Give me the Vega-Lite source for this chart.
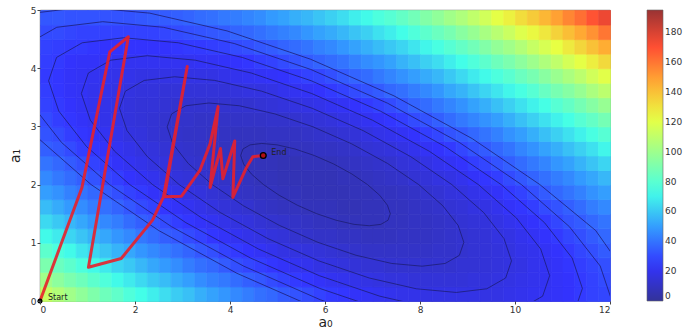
{
"$schema":"https://vega.github.io/schema/vega-lite/v6.json",
"width":570,"height":291,
"autosize":{"type":"none"},
"padding":{"left":40,"top":10,"right":73,"bottom":30},
"config":{"font":"DejaVu Sans","view":{"stroke":"#444","strokeWidth":0.8},
"axis":{"labelFontSize":9,"labelColor":"#333","tickColor":"#444","tickSize":3,"labelPadding":1,"domain":false,"grid":false,"titleColor":"#222","titleFontWeight":"normal","titleFontSize":14}},
"datasets":{
"grid":[
{"a":0,"b":0,"v":112},{"a":0.25,"b":0,"v":106},{"a":0.5,"b":0,"v":101},{"a":0.75,"b":0,"v":96},{"a":1,"b":0,"v":91},{"a":1.25,"b":0,"v":86},{"a":1.5,"b":0,"v":82},{"a":1.75,"b":0,"v":77},{"a":2,"b":0,"v":73},{"a":2.25,"b":0,"v":69},{"a":2.5,"b":0,"v":65},{"a":2.75,"b":0,"v":61},{"a":3,"b":0,"v":58},{"a":3.25,"b":0,"v":54},{"a":3.5,"b":0,"v":51},{"a":3.75,"b":0,"v":48},{"a":4,"b":0,"v":45},{"a":4.25,"b":0,"v":42},{"a":4.5,"b":0,"v":39},{"a":4.75,"b":0,"v":37},{"a":5,"b":0,"v":34},{"a":5.25,"b":0,"v":32},{"a":5.5,"b":0,"v":30},{"a":5.75,"b":0,"v":28},{"a":6,"b":0,"v":26},{"a":6.25,"b":0,"v":25},{"a":6.5,"b":0,"v":23},{"a":6.75,"b":0,"v":22},{"a":7,"b":0,"v":21},{"a":7.25,"b":0,"v":20},{"a":7.5,"b":0,"v":19},{"a":7.75,"b":0,"v":19},{"a":8,"b":0,"v":18},{"a":8.25,"b":0,"v":18},{"a":8.5,"b":0,"v":18},{"a":8.75,"b":0,"v":18},{"a":9,"b":0,"v":18},{"a":9.25,"b":0,"v":18},{"a":9.5,"b":0,"v":18},{"a":9.75,"b":0,"v":19},{"a":10,"b":0,"v":20},{"a":10.25,"b":0,"v":21},{"a":10.5,"b":0,"v":22},{"a":10.75,"b":0,"v":23},{"a":11,"b":0,"v":24},{"a":11.25,"b":0,"v":26},{"a":11.5,"b":0,"v":28},{"a":11.75,"b":0,"v":29},
{"a":0,"b":0.25,"v":101},{"a":0.25,"b":0.25,"v":95},{"a":0.5,"b":0.25,"v":90},{"a":0.75,"b":0.25,"v":86},{"a":1,"b":0.25,"v":81},{"a":1.25,"b":0.25,"v":77},{"a":1.5,"b":0.25,"v":72},{"a":1.75,"b":0.25,"v":68},{"a":2,"b":0.25,"v":64},{"a":2.25,"b":0.25,"v":60},{"a":2.5,"b":0.25,"v":57},{"a":2.75,"b":0.25,"v":53},{"a":3,"b":0.25,"v":50},{"a":3.25,"b":0.25,"v":46},{"a":3.5,"b":0.25,"v":43},{"a":3.75,"b":0.25,"v":41},{"a":4,"b":0.25,"v":38},{"a":4.25,"b":0.25,"v":35},{"a":4.5,"b":0.25,"v":33},{"a":4.75,"b":0.25,"v":30},{"a":5,"b":0.25,"v":28},{"a":5.25,"b":0.25,"v":26},{"a":5.5,"b":0.25,"v":25},{"a":5.75,"b":0.25,"v":23},{"a":6,"b":0.25,"v":21},{"a":6.25,"b":0.25,"v":20},{"a":6.5,"b":0.25,"v":19},{"a":6.75,"b":0.25,"v":18},{"a":7,"b":0.25,"v":17},{"a":7.25,"b":0.25,"v":16},{"a":7.5,"b":0.25,"v":16},{"a":7.75,"b":0.25,"v":15},{"a":8,"b":0.25,"v":15},{"a":8.25,"b":0.25,"v":15},{"a":8.5,"b":0.25,"v":15},{"a":8.75,"b":0.25,"v":15},{"a":9,"b":0.25,"v":16},{"a":9.25,"b":0.25,"v":16},{"a":9.5,"b":0.25,"v":17},{"a":9.75,"b":0.25,"v":18},{"a":10,"b":0.25,"v":19},{"a":10.25,"b":0.25,"v":20},{"a":10.5,"b":0.25,"v":21},{"a":10.75,"b":0.25,"v":23},{"a":11,"b":0.25,"v":24},{"a":11.25,"b":0.25,"v":26},{"a":11.5,"b":0.25,"v":28},{"a":11.75,"b":0.25,"v":30},
{"a":0,"b":0.5,"v":90},{"a":0.25,"b":0.5,"v":85},{"a":0.5,"b":0.5,"v":81},{"a":0.75,"b":0.5,"v":76},{"a":1,"b":0.5,"v":72},{"a":1.25,"b":0.5,"v":68},{"a":1.5,"b":0.5,"v":63},{"a":1.75,"b":0.5,"v":60},{"a":2,"b":0.5,"v":56},{"a":2.25,"b":0.5,"v":52},{"a":2.5,"b":0.5,"v":49},{"a":2.75,"b":0.5,"v":46},{"a":3,"b":0.5,"v":42},{"a":3.25,"b":0.5,"v":39},{"a":3.5,"b":0.5,"v":37},{"a":3.75,"b":0.5,"v":34},{"a":4,"b":0.5,"v":31},{"a":4.25,"b":0.5,"v":29},{"a":4.5,"b":0.5,"v":27},{"a":4.75,"b":0.5,"v":25},{"a":5,"b":0.5,"v":23},{"a":5.25,"b":0.5,"v":21},{"a":5.5,"b":0.5,"v":20},{"a":5.75,"b":0.5,"v":18},{"a":6,"b":0.5,"v":17},{"a":6.25,"b":0.5,"v":16},{"a":6.5,"b":0.5,"v":15},{"a":6.75,"b":0.5,"v":14},{"a":7,"b":0.5,"v":14},{"a":7.25,"b":0.5,"v":13},{"a":7.5,"b":0.5,"v":13},{"a":7.75,"b":0.5,"v":13},{"a":8,"b":0.5,"v":13},{"a":8.25,"b":0.5,"v":13},{"a":8.5,"b":0.5,"v":13},{"a":8.75,"b":0.5,"v":14},{"a":9,"b":0.5,"v":14},{"a":9.25,"b":0.5,"v":15},{"a":9.5,"b":0.5,"v":16},{"a":9.75,"b":0.5,"v":17},{"a":10,"b":0.5,"v":18},{"a":10.25,"b":0.5,"v":20},{"a":10.5,"b":0.5,"v":21},{"a":10.75,"b":0.5,"v":23},{"a":11,"b":0.5,"v":25},{"a":11.25,"b":0.5,"v":27},{"a":11.5,"b":0.5,"v":29},{"a":11.75,"b":0.5,"v":31},
{"a":0,"b":0.75,"v":81},{"a":0.25,"b":0.75,"v":76},{"a":0.5,"b":0.75,"v":72},{"a":0.75,"b":0.75,"v":67},{"a":1,"b":0.75,"v":63},{"a":1.25,"b":0.75,"v":59},{"a":1.5,"b":0.75,"v":55},{"a":1.75,"b":0.75,"v":52},{"a":2,"b":0.75,"v":48},{"a":2.25,"b":0.75,"v":45},{"a":2.5,"b":0.75,"v":42},{"a":2.75,"b":0.75,"v":39},{"a":3,"b":0.75,"v":36},{"a":3.25,"b":0.75,"v":33},{"a":3.5,"b":0.75,"v":31},{"a":3.75,"b":0.75,"v":28},{"a":4,"b":0.75,"v":26},{"a":4.25,"b":0.75,"v":24},{"a":4.5,"b":0.75,"v":22},{"a":4.75,"b":0.75,"v":20},{"a":5,"b":0.75,"v":18},{"a":5.25,"b":0.75,"v":17},{"a":5.5,"b":0.75,"v":16},{"a":5.75,"b":0.75,"v":15},{"a":6,"b":0.75,"v":14},{"a":6.25,"b":0.75,"v":13},{"a":6.5,"b":0.75,"v":12},{"a":6.75,"b":0.75,"v":11},{"a":7,"b":0.75,"v":11},{"a":7.25,"b":0.75,"v":11},{"a":7.5,"b":0.75,"v":11},{"a":7.75,"b":0.75,"v":11},{"a":8,"b":0.75,"v":11},{"a":8.25,"b":0.75,"v":12},{"a":8.5,"b":0.75,"v":12},{"a":8.75,"b":0.75,"v":13},{"a":9,"b":0.75,"v":14},{"a":9.25,"b":0.75,"v":15},{"a":9.5,"b":0.75,"v":16},{"a":9.75,"b":0.75,"v":17},{"a":10,"b":0.75,"v":19},{"a":10.25,"b":0.75,"v":20},{"a":10.5,"b":0.75,"v":22},{"a":10.75,"b":0.75,"v":24},{"a":11,"b":0.75,"v":26},{"a":11.25,"b":0.75,"v":29},{"a":11.5,"b":0.75,"v":31},{"a":11.75,"b":0.75,"v":34},
{"a":0,"b":1,"v":72},{"a":0.25,"b":1,"v":68},{"a":0.5,"b":1,"v":63},{"a":0.75,"b":1,"v":59},{"a":1,"b":1,"v":55},{"a":1.25,"b":1,"v":52},{"a":1.5,"b":1,"v":48},{"a":1.75,"b":1,"v":45},{"a":2,"b":1,"v":41},{"a":2.25,"b":1,"v":38},{"a":2.5,"b":1,"v":35},{"a":2.75,"b":1,"v":33},{"a":3,"b":1,"v":30},{"a":3.25,"b":1,"v":28},{"a":3.5,"b":1,"v":25},{"a":3.75,"b":1,"v":23},{"a":4,"b":1,"v":21},{"a":4.25,"b":1,"v":19},{"a":4.5,"b":1,"v":18},{"a":4.75,"b":1,"v":16},{"a":5,"b":1,"v":15},{"a":5.25,"b":1,"v":13},{"a":5.5,"b":1,"v":12},{"a":5.75,"b":1,"v":11},{"a":6,"b":1,"v":11},{"a":6.25,"b":1,"v":10},{"a":6.5,"b":1,"v":10},{"a":6.75,"b":1,"v":9},{"a":7,"b":1,"v":9},{"a":7.25,"b":1,"v":9},{"a":7.5,"b":1,"v":10},{"a":7.75,"b":1,"v":10},{"a":8,"b":1,"v":10},{"a":8.25,"b":1,"v":11},{"a":8.5,"b":1,"v":12},{"a":8.75,"b":1,"v":13},{"a":9,"b":1,"v":14},{"a":9.25,"b":1,"v":15},{"a":9.5,"b":1,"v":17},{"a":9.75,"b":1,"v":18},{"a":10,"b":1,"v":20},{"a":10.25,"b":1,"v":22},{"a":10.5,"b":1,"v":24},{"a":10.75,"b":1,"v":26},{"a":11,"b":1,"v":29},{"a":11.25,"b":1,"v":31},{"a":11.5,"b":1,"v":34},{"a":11.75,"b":1,"v":37},
{"a":0,"b":1.25,"v":64},{"a":0.25,"b":1.25,"v":60},{"a":0.5,"b":1.25,"v":56},{"a":0.75,"b":1.25,"v":52},{"a":1,"b":1.25,"v":48},{"a":1.25,"b":1.25,"v":45},{"a":1.5,"b":1.25,"v":42},{"a":1.75,"b":1.25,"v":38},{"a":2,"b":1.25,"v":35},{"a":2.25,"b":1.25,"v":33},{"a":2.5,"b":1.25,"v":30},{"a":2.75,"b":1.25,"v":27},{"a":3,"b":1.25,"v":25},{"a":3.25,"b":1.25,"v":23},{"a":3.5,"b":1.25,"v":21},{"a":3.75,"b":1.25,"v":19},{"a":4,"b":1.25,"v":17},{"a":4.25,"b":1.25,"v":16},{"a":4.5,"b":1.25,"v":14},{"a":4.75,"b":1.25,"v":13},{"a":5,"b":1.25,"v":12},{"a":5.25,"b":1.25,"v":11},{"a":5.5,"b":1.25,"v":10},{"a":5.75,"b":1.25,"v":9},{"a":6,"b":1.25,"v":9},{"a":6.25,"b":1.25,"v":8},{"a":6.5,"b":1.25,"v":8},{"a":6.75,"b":1.25,"v":8},{"a":7,"b":1.25,"v":8},{"a":7.25,"b":1.25,"v":9},{"a":7.5,"b":1.25,"v":9},{"a":7.75,"b":1.25,"v":10},{"a":8,"b":1.25,"v":10},{"a":8.25,"b":1.25,"v":11},{"a":8.5,"b":1.25,"v":12},{"a":8.75,"b":1.25,"v":14},{"a":9,"b":1.25,"v":15},{"a":9.25,"b":1.25,"v":16},{"a":9.5,"b":1.25,"v":18},{"a":9.75,"b":1.25,"v":20},{"a":10,"b":1.25,"v":22},{"a":10.25,"b":1.25,"v":24},{"a":10.5,"b":1.25,"v":26},{"a":10.75,"b":1.25,"v":29},{"a":11,"b":1.25,"v":32},{"a":11.25,"b":1.25,"v":34},{"a":11.5,"b":1.25,"v":37},{"a":11.75,"b":1.25,"v":40},
{"a":0,"b":1.5,"v":57},{"a":0.25,"b":1.5,"v":53},{"a":0.5,"b":1.5,"v":49},{"a":0.75,"b":1.5,"v":46},{"a":1,"b":1.5,"v":42},{"a":1.25,"b":1.5,"v":39},{"a":1.5,"b":1.5,"v":36},{"a":1.75,"b":1.5,"v":33},{"a":2,"b":1.5,"v":30},{"a":2.25,"b":1.5,"v":28},{"a":2.5,"b":1.5,"v":25},{"a":2.75,"b":1.5,"v":23},{"a":3,"b":1.5,"v":21},{"a":3.25,"b":1.5,"v":19},{"a":3.5,"b":1.5,"v":17},{"a":3.75,"b":1.5,"v":15},{"a":4,"b":1.5,"v":14},{"a":4.25,"b":1.5,"v":13},{"a":4.5,"b":1.5,"v":11},{"a":4.75,"b":1.5,"v":10},{"a":5,"b":1.5,"v":9},{"a":5.25,"b":1.5,"v":9},{"a":5.5,"b":1.5,"v":8},{"a":5.75,"b":1.5,"v":8},{"a":6,"b":1.5,"v":8},{"a":6.25,"b":1.5,"v":7},{"a":6.5,"b":1.5,"v":7},{"a":6.75,"b":1.5,"v":8},{"a":7,"b":1.5,"v":8},{"a":7.25,"b":1.5,"v":9},{"a":7.5,"b":1.5,"v":9},{"a":7.75,"b":1.5,"v":10},{"a":8,"b":1.5,"v":11},{"a":8.25,"b":1.5,"v":12},{"a":8.5,"b":1.5,"v":14},{"a":8.75,"b":1.5,"v":15},{"a":9,"b":1.5,"v":17},{"a":9.25,"b":1.5,"v":18},{"a":9.5,"b":1.5,"v":20},{"a":9.75,"b":1.5,"v":23},{"a":10,"b":1.5,"v":25},{"a":10.25,"b":1.5,"v":27},{"a":10.5,"b":1.5,"v":30},{"a":10.75,"b":1.5,"v":32},{"a":11,"b":1.5,"v":35},{"a":11.25,"b":1.5,"v":38},{"a":11.5,"b":1.5,"v":42},{"a":11.75,"b":1.5,"v":45},
{"a":0,"b":1.75,"v":50},{"a":0.25,"b":1.75,"v":47},{"a":0.5,"b":1.75,"v":43},{"a":0.75,"b":1.75,"v":40},{"a":1,"b":1.75,"v":37},{"a":1.25,"b":1.75,"v":34},{"a":1.5,"b":1.75,"v":31},{"a":1.75,"b":1.75,"v":28},{"a":2,"b":1.75,"v":26},{"a":2.25,"b":1.75,"v":23},{"a":2.5,"b":1.75,"v":21},{"a":2.75,"b":1.75,"v":19},{"a":3,"b":1.75,"v":17},{"a":3.25,"b":1.75,"v":16},{"a":3.5,"b":1.75,"v":14},{"a":3.75,"b":1.75,"v":13},{"a":4,"b":1.75,"v":11},{"a":4.25,"b":1.75,"v":10},{"a":4.5,"b":1.75,"v":9},{"a":4.75,"b":1.75,"v":9},{"a":5,"b":1.75,"v":8},{"a":5.25,"b":1.75,"v":8},{"a":5.5,"b":1.75,"v":7},{"a":5.75,"b":1.75,"v":7},{"a":6,"b":1.75,"v":7},{"a":6.25,"b":1.75,"v":7},{"a":6.5,"b":1.75,"v":8},{"a":6.75,"b":1.75,"v":8},{"a":7,"b":1.75,"v":9},{"a":7.25,"b":1.75,"v":9},{"a":7.5,"b":1.75,"v":10},{"a":7.75,"b":1.75,"v":11},{"a":8,"b":1.75,"v":13},{"a":8.25,"b":1.75,"v":14},{"a":8.5,"b":1.75,"v":16},{"a":8.75,"b":1.75,"v":17},{"a":9,"b":1.75,"v":19},{"a":9.25,"b":1.75,"v":21},{"a":9.5,"b":1.75,"v":23},{"a":9.75,"b":1.75,"v":26},{"a":10,"b":1.75,"v":28},{"a":10.25,"b":1.75,"v":31},{"a":10.5,"b":1.75,"v":34},{"a":10.75,"b":1.75,"v":37},{"a":11,"b":1.75,"v":40},{"a":11.25,"b":1.75,"v":43},{"a":11.5,"b":1.75,"v":47},{"a":11.75,"b":1.75,"v":50},
{"a":0,"b":2,"v":45},{"a":0.25,"b":2,"v":41},{"a":0.5,"b":2,"v":38},{"a":0.75,"b":2,"v":35},{"a":1,"b":2,"v":32},{"a":1.25,"b":2,"v":29},{"a":1.5,"b":2,"v":27},{"a":1.75,"b":2,"v":24},{"a":2,"b":2,"v":22},{"a":2.25,"b":2,"v":20},{"a":2.5,"b":2,"v":18},{"a":2.75,"b":2,"v":16},{"a":3,"b":2,"v":15},{"a":3.25,"b":2,"v":13},{"a":3.5,"b":2,"v":12},{"a":3.75,"b":2,"v":11},{"a":4,"b":2,"v":10},{"a":4.25,"b":2,"v":9},{"a":4.5,"b":2,"v":8},{"a":4.75,"b":2,"v":8},{"a":5,"b":2,"v":7},{"a":5.25,"b":2,"v":7},{"a":5.5,"b":2,"v":7},{"a":5.75,"b":2,"v":7},{"a":6,"b":2,"v":7},{"a":6.25,"b":2,"v":8},{"a":6.5,"b":2,"v":8},{"a":6.75,"b":2,"v":9},{"a":7,"b":2,"v":10},{"a":7.25,"b":2,"v":11},{"a":7.5,"b":2,"v":12},{"a":7.75,"b":2,"v":14},{"a":8,"b":2,"v":15},{"a":8.25,"b":2,"v":17},{"a":8.5,"b":2,"v":18},{"a":8.75,"b":2,"v":20},{"a":9,"b":2,"v":23},{"a":9.25,"b":2,"v":25},{"a":9.5,"b":2,"v":27},{"a":9.75,"b":2,"v":30},{"a":10,"b":2,"v":33},{"a":10.25,"b":2,"v":36},{"a":10.5,"b":2,"v":39},{"a":10.75,"b":2,"v":42},{"a":11,"b":2,"v":45},{"a":11.25,"b":2,"v":49},{"a":11.5,"b":2,"v":52},{"a":11.75,"b":2,"v":56},
{"a":0,"b":2.25,"v":40},{"a":0.25,"b":2.25,"v":37},{"a":0.5,"b":2.25,"v":34},{"a":0.75,"b":2.25,"v":31},{"a":1,"b":2.25,"v":28},{"a":1.25,"b":2.25,"v":26},{"a":1.5,"b":2.25,"v":23},{"a":1.75,"b":2.25,"v":21},{"a":2,"b":2.25,"v":19},{"a":2.25,"b":2.25,"v":17},{"a":2.5,"b":2.25,"v":16},{"a":2.75,"b":2.25,"v":14},{"a":3,"b":2.25,"v":13},{"a":3.25,"b":2.25,"v":12},{"a":3.5,"b":2.25,"v":11},{"a":3.75,"b":2.25,"v":10},{"a":4,"b":2.25,"v":9},{"a":4.25,"b":2.25,"v":8},{"a":4.5,"b":2.25,"v":8},{"a":4.75,"b":2.25,"v":8},{"a":5,"b":2.25,"v":7},{"a":5.25,"b":2.25,"v":7},{"a":5.5,"b":2.25,"v":8},{"a":5.75,"b":2.25,"v":8},{"a":6,"b":2.25,"v":8},{"a":6.25,"b":2.25,"v":9},{"a":6.5,"b":2.25,"v":10},{"a":6.75,"b":2.25,"v":11},{"a":7,"b":2.25,"v":12},{"a":7.25,"b":2.25,"v":13},{"a":7.5,"b":2.25,"v":15},{"a":7.75,"b":2.25,"v":16},{"a":8,"b":2.25,"v":18},{"a":8.25,"b":2.25,"v":20},{"a":8.5,"b":2.25,"v":22},{"a":8.75,"b":2.25,"v":24},{"a":9,"b":2.25,"v":27},{"a":9.25,"b":2.25,"v":29},{"a":9.5,"b":2.25,"v":32},{"a":9.75,"b":2.25,"v":35},{"a":10,"b":2.25,"v":38},{"a":10.25,"b":2.25,"v":41},{"a":10.5,"b":2.25,"v":44},{"a":10.75,"b":2.25,"v":48},{"a":11,"b":2.25,"v":51},{"a":11.25,"b":2.25,"v":55},{"a":11.5,"b":2.25,"v":59},{"a":11.75,"b":2.25,"v":63},
{"a":0,"b":2.5,"v":35},{"a":0.25,"b":2.5,"v":33},{"a":0.5,"b":2.5,"v":30},{"a":0.75,"b":2.5,"v":27},{"a":1,"b":2.5,"v":25},{"a":1.25,"b":2.5,"v":23},{"a":1.5,"b":2.5,"v":21},{"a":1.75,"b":2.5,"v":19},{"a":2,"b":2.5,"v":17},{"a":2.25,"b":2.5,"v":16},{"a":2.5,"b":2.5,"v":14},{"a":2.75,"b":2.5,"v":13},{"a":3,"b":2.5,"v":12},{"a":3.25,"b":2.5,"v":11},{"a":3.5,"b":2.5,"v":10},{"a":3.75,"b":2.5,"v":9},{"a":4,"b":2.5,"v":9},{"a":4.25,"b":2.5,"v":8},{"a":4.5,"b":2.5,"v":8},{"a":4.75,"b":2.5,"v":8},{"a":5,"b":2.5,"v":8},{"a":5.25,"b":2.5,"v":9},{"a":5.5,"b":2.5,"v":9},{"a":5.75,"b":2.5,"v":10},{"a":6,"b":2.5,"v":10},{"a":6.25,"b":2.5,"v":11},{"a":6.5,"b":2.5,"v":12},{"a":6.75,"b":2.5,"v":14},{"a":7,"b":2.5,"v":15},{"a":7.25,"b":2.5,"v":16},{"a":7.5,"b":2.5,"v":18},{"a":7.75,"b":2.5,"v":20},{"a":8,"b":2.5,"v":22},{"a":8.25,"b":2.5,"v":24},{"a":8.5,"b":2.5,"v":26},{"a":8.75,"b":2.5,"v":29},{"a":9,"b":2.5,"v":32},{"a":9.25,"b":2.5,"v":34},{"a":9.5,"b":2.5,"v":37},{"a":9.75,"b":2.5,"v":40},{"a":10,"b":2.5,"v":44},{"a":10.25,"b":2.5,"v":47},{"a":10.5,"b":2.5,"v":51},{"a":10.75,"b":2.5,"v":54},{"a":11,"b":2.5,"v":58},{"a":11.25,"b":2.5,"v":62},{"a":11.5,"b":2.5,"v":66},{"a":11.75,"b":2.5,"v":71},
{"a":0,"b":2.75,"v":32},{"a":0.25,"b":2.75,"v":30},{"a":0.5,"b":2.75,"v":27},{"a":0.75,"b":2.75,"v":25},{"a":1,"b":2.75,"v":23},{"a":1.25,"b":2.75,"v":21},{"a":1.5,"b":2.75,"v":19},{"a":1.75,"b":2.75,"v":17},{"a":2,"b":2.75,"v":16},{"a":2.25,"b":2.75,"v":14},{"a":2.5,"b":2.75,"v":13},{"a":2.75,"b":2.75,"v":12},{"a":3,"b":2.75,"v":11},{"a":3.25,"b":2.75,"v":11},{"a":3.5,"b":2.75,"v":10},{"a":3.75,"b":2.75,"v":10},{"a":4,"b":2.75,"v":9},{"a":4.25,"b":2.75,"v":9},{"a":4.5,"b":2.75,"v":9},{"a":4.75,"b":2.75,"v":10},{"a":5,"b":2.75,"v":10},{"a":5.25,"b":2.75,"v":10},{"a":5.5,"b":2.75,"v":11},{"a":5.75,"b":2.75,"v":12},{"a":6,"b":2.75,"v":13},{"a":6.25,"b":2.75,"v":14},{"a":6.5,"b":2.75,"v":15},{"a":6.75,"b":2.75,"v":17},{"a":7,"b":2.75,"v":19},{"a":7.25,"b":2.75,"v":20},{"a":7.5,"b":2.75,"v":22},{"a":7.75,"b":2.75,"v":24},{"a":8,"b":2.75,"v":27},{"a":8.25,"b":2.75,"v":29},{"a":8.5,"b":2.75,"v":32},{"a":8.75,"b":2.75,"v":34},{"a":9,"b":2.75,"v":37},{"a":9.25,"b":2.75,"v":40},{"a":9.5,"b":2.75,"v":43},{"a":9.75,"b":2.75,"v":47},{"a":10,"b":2.75,"v":50},{"a":10.25,"b":2.75,"v":54},{"a":10.5,"b":2.75,"v":58},{"a":10.75,"b":2.75,"v":62},{"a":11,"b":2.75,"v":66},{"a":11.25,"b":2.75,"v":70},{"a":11.5,"b":2.75,"v":75},{"a":11.75,"b":2.75,"v":79},
{"a":0,"b":3,"v":30},{"a":0.25,"b":3,"v":27},{"a":0.5,"b":3,"v":25},{"a":0.75,"b":3,"v":23},{"a":1,"b":3,"v":21},{"a":1.25,"b":3,"v":19},{"a":1.5,"b":3,"v":18},{"a":1.75,"b":3,"v":16},{"a":2,"b":3,"v":15},{"a":2.25,"b":3,"v":14},{"a":2.5,"b":3,"v":13},{"a":2.75,"b":3,"v":12},{"a":3,"b":3,"v":12},{"a":3.25,"b":3,"v":11},{"a":3.5,"b":3,"v":11},{"a":3.75,"b":3,"v":11},{"a":4,"b":3,"v":11},{"a":4.25,"b":3,"v":11},{"a":4.5,"b":3,"v":11},{"a":4.75,"b":3,"v":12},{"a":5,"b":3,"v":12},{"a":5.25,"b":3,"v":13},{"a":5.5,"b":3,"v":14},{"a":5.75,"b":3,"v":15},{"a":6,"b":3,"v":16},{"a":6.25,"b":3,"v":18},{"a":6.5,"b":3,"v":19},{"a":6.75,"b":3,"v":21},{"a":7,"b":3,"v":23},{"a":7.25,"b":3,"v":25},{"a":7.5,"b":3,"v":27},{"a":7.75,"b":3,"v":30},{"a":8,"b":3,"v":32},{"a":8.25,"b":3,"v":35},{"a":8.5,"b":3,"v":38},{"a":8.75,"b":3,"v":41},{"a":9,"b":3,"v":44},{"a":9.25,"b":3,"v":47},{"a":9.5,"b":3,"v":50},{"a":9.75,"b":3,"v":54},{"a":10,"b":3,"v":58},{"a":10.25,"b":3,"v":62},{"a":10.5,"b":3,"v":66},{"a":10.75,"b":3,"v":70},{"a":11,"b":3,"v":74},{"a":11.25,"b":3,"v":79},{"a":11.5,"b":3,"v":83},{"a":11.75,"b":3,"v":88},
{"a":0,"b":3.25,"v":28},{"a":0.25,"b":3.25,"v":26},{"a":0.5,"b":3.25,"v":24},{"a":0.75,"b":3.25,"v":22},{"a":1,"b":3.25,"v":20},{"a":1.25,"b":3.25,"v":19},{"a":1.5,"b":3.25,"v":18},{"a":1.75,"b":3.25,"v":16},{"a":2,"b":3.25,"v":15},{"a":2.25,"b":3.25,"v":15},{"a":2.5,"b":3.25,"v":14},{"a":2.75,"b":3.25,"v":13},{"a":3,"b":3.25,"v":13},{"a":3.25,"b":3.25,"v":13},{"a":3.5,"b":3.25,"v":13},{"a":3.75,"b":3.25,"v":13},{"a":4,"b":3.25,"v":13},{"a":4.25,"b":3.25,"v":13},{"a":4.5,"b":3.25,"v":14},{"a":4.75,"b":3.25,"v":15},{"a":5,"b":3.25,"v":16},{"a":5.25,"b":3.25,"v":17},{"a":5.5,"b":3.25,"v":18},{"a":5.75,"b":3.25,"v":19},{"a":6,"b":3.25,"v":21},{"a":6.25,"b":3.25,"v":22},{"a":6.5,"b":3.25,"v":24},{"a":6.75,"b":3.25,"v":26},{"a":7,"b":3.25,"v":28},{"a":7.25,"b":3.25,"v":30},{"a":7.5,"b":3.25,"v":33},{"a":7.75,"b":3.25,"v":36},{"a":8,"b":3.25,"v":38},{"a":8.25,"b":3.25,"v":41},{"a":8.5,"b":3.25,"v":44},{"a":8.75,"b":3.25,"v":47},{"a":9,"b":3.25,"v":51},{"a":9.25,"b":3.25,"v":54},{"a":9.5,"b":3.25,"v":58},{"a":9.75,"b":3.25,"v":62},{"a":10,"b":3.25,"v":66},{"a":10.25,"b":3.25,"v":70},{"a":10.5,"b":3.25,"v":74},{"a":10.75,"b":3.25,"v":79},{"a":11,"b":3.25,"v":83},{"a":11.25,"b":3.25,"v":88},{"a":11.5,"b":3.25,"v":93},{"a":11.75,"b":3.25,"v":98},
{"a":0,"b":3.5,"v":27},{"a":0.25,"b":3.5,"v":25},{"a":0.5,"b":3.5,"v":23},{"a":0.75,"b":3.5,"v":22},{"a":1,"b":3.5,"v":20},{"a":1.25,"b":3.5,"v":19},{"a":1.5,"b":3.5,"v":18},{"a":1.75,"b":3.5,"v":17},{"a":2,"b":3.5,"v":16},{"a":2.25,"b":3.5,"v":16},{"a":2.5,"b":3.5,"v":15},{"a":2.75,"b":3.5,"v":15},{"a":3,"b":3.5,"v":15},{"a":3.25,"b":3.5,"v":15},{"a":3.5,"b":3.5,"v":15},{"a":3.75,"b":3.5,"v":15},{"a":4,"b":3.5,"v":16},{"a":4.25,"b":3.5,"v":17},{"a":4.5,"b":3.5,"v":17},{"a":4.75,"b":3.5,"v":18},{"a":5,"b":3.5,"v":20},{"a":5.25,"b":3.5,"v":21},{"a":5.5,"b":3.5,"v":22},{"a":5.75,"b":3.5,"v":24},{"a":6,"b":3.5,"v":26},{"a":6.25,"b":3.5,"v":28},{"a":6.5,"b":3.5,"v":30},{"a":6.75,"b":3.5,"v":32},{"a":7,"b":3.5,"v":34},{"a":7.25,"b":3.5,"v":37},{"a":7.5,"b":3.5,"v":39},{"a":7.75,"b":3.5,"v":42},{"a":8,"b":3.5,"v":45},{"a":8.25,"b":3.5,"v":48},{"a":8.5,"b":3.5,"v":52},{"a":8.75,"b":3.5,"v":55},{"a":9,"b":3.5,"v":59},{"a":9.25,"b":3.5,"v":63},{"a":9.5,"b":3.5,"v":67},{"a":9.75,"b":3.5,"v":71},{"a":10,"b":3.5,"v":75},{"a":10.25,"b":3.5,"v":79},{"a":10.5,"b":3.5,"v":84},{"a":10.75,"b":3.5,"v":89},{"a":11,"b":3.5,"v":93},{"a":11.25,"b":3.5,"v":98},{"a":11.5,"b":3.5,"v":104},{"a":11.75,"b":3.5,"v":109},
{"a":0,"b":3.75,"v":26},{"a":0.25,"b":3.75,"v":25},{"a":0.5,"b":3.75,"v":23},{"a":0.75,"b":3.75,"v":22},{"a":1,"b":3.75,"v":21},{"a":1.25,"b":3.75,"v":20},{"a":1.5,"b":3.75,"v":19},{"a":1.75,"b":3.75,"v":19},{"a":2,"b":3.75,"v":18},{"a":2.25,"b":3.75,"v":18},{"a":2.5,"b":3.75,"v":18},{"a":2.75,"b":3.75,"v":18},{"a":3,"b":3.75,"v":18},{"a":3.25,"b":3.75,"v":18},{"a":3.5,"b":3.75,"v":18},{"a":3.75,"b":3.75,"v":19},{"a":4,"b":3.75,"v":20},{"a":4.25,"b":3.75,"v":21},{"a":4.5,"b":3.75,"v":22},{"a":4.75,"b":3.75,"v":23},{"a":5,"b":3.75,"v":24},{"a":5.25,"b":3.75,"v":26},{"a":5.5,"b":3.75,"v":28},{"a":5.75,"b":3.75,"v":29},{"a":6,"b":3.75,"v":31},{"a":6.25,"b":3.75,"v":34},{"a":6.5,"b":3.75,"v":36},{"a":6.75,"b":3.75,"v":38},{"a":7,"b":3.75,"v":41},{"a":7.25,"b":3.75,"v":44},{"a":7.5,"b":3.75,"v":47},{"a":7.75,"b":3.75,"v":50},{"a":8,"b":3.75,"v":53},{"a":8.25,"b":3.75,"v":56},{"a":8.5,"b":3.75,"v":60},{"a":8.75,"b":3.75,"v":64},{"a":9,"b":3.75,"v":68},{"a":9.25,"b":3.75,"v":72},{"a":9.5,"b":3.75,"v":76},{"a":9.75,"b":3.75,"v":80},{"a":10,"b":3.75,"v":85},{"a":10.25,"b":3.75,"v":89},{"a":10.5,"b":3.75,"v":94},{"a":10.75,"b":3.75,"v":99},{"a":11,"b":3.75,"v":104},{"a":11.25,"b":3.75,"v":109},{"a":11.5,"b":3.75,"v":115},{"a":11.75,"b":3.75,"v":120},
{"a":0,"b":4,"v":27},{"a":0.25,"b":4,"v":26},{"a":0.5,"b":4,"v":24},{"a":0.75,"b":4,"v":23},{"a":1,"b":4,"v":23},{"a":1.25,"b":4,"v":22},{"a":1.5,"b":4,"v":21},{"a":1.75,"b":4,"v":21},{"a":2,"b":4,"v":21},{"a":2.25,"b":4,"v":21},{"a":2.5,"b":4,"v":21},{"a":2.75,"b":4,"v":21},{"a":3,"b":4,"v":21},{"a":3.25,"b":4,"v":22},{"a":3.5,"b":4,"v":22},{"a":3.75,"b":4,"v":23},{"a":4,"b":4,"v":24},{"a":4.25,"b":4,"v":25},{"a":4.5,"b":4,"v":27},{"a":4.75,"b":4,"v":28},{"a":5,"b":4,"v":30},{"a":5.25,"b":4,"v":32},{"a":5.5,"b":4,"v":34},{"a":5.75,"b":4,"v":36},{"a":6,"b":4,"v":38},{"a":6.25,"b":4,"v":40},{"a":6.5,"b":4,"v":43},{"a":6.75,"b":4,"v":46},{"a":7,"b":4,"v":48},{"a":7.25,"b":4,"v":51},{"a":7.5,"b":4,"v":55},{"a":7.75,"b":4,"v":58},{"a":8,"b":4,"v":62},{"a":8.25,"b":4,"v":65},{"a":8.5,"b":4,"v":69},{"a":8.75,"b":4,"v":73},{"a":9,"b":4,"v":77},{"a":9.25,"b":4,"v":81},{"a":9.5,"b":4,"v":86},{"a":9.75,"b":4,"v":90},{"a":10,"b":4,"v":95},{"a":10.25,"b":4,"v":100},{"a":10.5,"b":4,"v":105},{"a":10.75,"b":4,"v":110},{"a":11,"b":4,"v":116},{"a":11.25,"b":4,"v":121},{"a":11.5,"b":4,"v":127},{"a":11.75,"b":4,"v":133},
{"a":0,"b":4.25,"v":28},{"a":0.25,"b":4.25,"v":27},{"a":0.5,"b":4.25,"v":26},{"a":0.75,"b":4.25,"v":26},{"a":1,"b":4.25,"v":25},{"a":1.25,"b":4.25,"v":24},{"a":1.5,"b":4.25,"v":24},{"a":1.75,"b":4.25,"v":24},{"a":2,"b":4.25,"v":24},{"a":2.25,"b":4.25,"v":24},{"a":2.5,"b":4.25,"v":24},{"a":2.75,"b":4.25,"v":25},{"a":3,"b":4.25,"v":26},{"a":3.25,"b":4.25,"v":26},{"a":3.5,"b":4.25,"v":27},{"a":3.75,"b":4.25,"v":28},{"a":4,"b":4.25,"v":30},{"a":4.25,"b":4.25,"v":31},{"a":4.5,"b":4.25,"v":33},{"a":4.75,"b":4.25,"v":34},{"a":5,"b":4.25,"v":36},{"a":5.25,"b":4.25,"v":38},{"a":5.5,"b":4.25,"v":40},{"a":5.75,"b":4.25,"v":43},{"a":6,"b":4.25,"v":45},{"a":6.25,"b":4.25,"v":48},{"a":6.5,"b":4.25,"v":51},{"a":6.75,"b":4.25,"v":54},{"a":7,"b":4.25,"v":57},{"a":7.25,"b":4.25,"v":60},{"a":7.5,"b":4.25,"v":63},{"a":7.75,"b":4.25,"v":67},{"a":8,"b":4.25,"v":71},{"a":8.25,"b":4.25,"v":75},{"a":8.5,"b":4.25,"v":79},{"a":8.75,"b":4.25,"v":83},{"a":9,"b":4.25,"v":87},{"a":9.25,"b":4.25,"v":92},{"a":9.5,"b":4.25,"v":97},{"a":9.75,"b":4.25,"v":101},{"a":10,"b":4.25,"v":106},{"a":10.25,"b":4.25,"v":112},{"a":10.5,"b":4.25,"v":117},{"a":10.75,"b":4.25,"v":122},{"a":11,"b":4.25,"v":128},{"a":11.25,"b":4.25,"v":134},{"a":11.5,"b":4.25,"v":140},{"a":11.75,"b":4.25,"v":146},
{"a":0,"b":4.5,"v":30},{"a":0.25,"b":4.5,"v":30},{"a":0.5,"b":4.5,"v":29},{"a":0.75,"b":4.5,"v":28},{"a":1,"b":4.5,"v":28},{"a":1.25,"b":4.5,"v":28},{"a":1.5,"b":4.5,"v":28},{"a":1.75,"b":4.5,"v":28},{"a":2,"b":4.5,"v":28},{"a":2.25,"b":4.5,"v":28},{"a":2.5,"b":4.5,"v":29},{"a":2.75,"b":4.5,"v":30},{"a":3,"b":4.5,"v":31},{"a":3.25,"b":4.5,"v":32},{"a":3.5,"b":4.5,"v":33},{"a":3.75,"b":4.5,"v":34},{"a":4,"b":4.5,"v":36},{"a":4.25,"b":4.5,"v":37},{"a":4.5,"b":4.5,"v":39},{"a":4.75,"b":4.5,"v":41},{"a":5,"b":4.5,"v":43},{"a":5.25,"b":4.5,"v":45},{"a":5.5,"b":4.5,"v":48},{"a":5.75,"b":4.5,"v":51},{"a":6,"b":4.5,"v":53},{"a":6.25,"b":4.5,"v":56},{"a":6.5,"b":4.5,"v":59},{"a":6.75,"b":4.5,"v":62},{"a":7,"b":4.5,"v":66},{"a":7.25,"b":4.5,"v":69},{"a":7.5,"b":4.5,"v":73},{"a":7.75,"b":4.5,"v":77},{"a":8,"b":4.5,"v":81},{"a":8.25,"b":4.5,"v":85},{"a":8.5,"b":4.5,"v":89},{"a":8.75,"b":4.5,"v":94},{"a":9,"b":4.5,"v":98},{"a":9.25,"b":4.5,"v":103},{"a":9.5,"b":4.5,"v":108},{"a":9.75,"b":4.5,"v":113},{"a":10,"b":4.5,"v":119},{"a":10.25,"b":4.5,"v":124},{"a":10.5,"b":4.5,"v":129},{"a":10.75,"b":4.5,"v":135},{"a":11,"b":4.5,"v":141},{"a":11.25,"b":4.5,"v":147},{"a":11.5,"b":4.5,"v":153},{"a":11.75,"b":4.5,"v":160},
{"a":0,"b":4.75,"v":33},{"a":0.25,"b":4.75,"v":33},{"a":0.5,"b":4.75,"v":32},{"a":0.75,"b":4.75,"v":32},{"a":1,"b":4.75,"v":32},{"a":1.25,"b":4.75,"v":32},{"a":1.5,"b":4.75,"v":32},{"a":1.75,"b":4.75,"v":32},{"a":2,"b":4.75,"v":33},{"a":2.25,"b":4.75,"v":34},{"a":2.5,"b":4.75,"v":34},{"a":2.75,"b":4.75,"v":35},{"a":3,"b":4.75,"v":36},{"a":3.25,"b":4.75,"v":38},{"a":3.5,"b":4.75,"v":39},{"a":3.75,"b":4.75,"v":41},{"a":4,"b":4.75,"v":42},{"a":4.25,"b":4.75,"v":44},{"a":4.5,"b":4.75,"v":46},{"a":4.75,"b":4.75,"v":49},{"a":5,"b":4.75,"v":51},{"a":5.25,"b":4.75,"v":54},{"a":5.5,"b":4.75,"v":56},{"a":5.75,"b":4.75,"v":59},{"a":6,"b":4.75,"v":62},{"a":6.25,"b":4.75,"v":65},{"a":6.5,"b":4.75,"v":69},{"a":6.75,"b":4.75,"v":72},{"a":7,"b":4.75,"v":76},{"a":7.25,"b":4.75,"v":79},{"a":7.5,"b":4.75,"v":83},{"a":7.75,"b":4.75,"v":87},{"a":8,"b":4.75,"v":92},{"a":8.25,"b":4.75,"v":96},{"a":8.5,"b":4.75,"v":101},{"a":8.75,"b":4.75,"v":105},{"a":9,"b":4.75,"v":110},{"a":9.25,"b":4.75,"v":115},{"a":9.5,"b":4.75,"v":121},{"a":9.75,"b":4.75,"v":126},{"a":10,"b":4.75,"v":132},{"a":10.25,"b":4.75,"v":137},{"a":10.5,"b":4.75,"v":143},{"a":10.75,"b":4.75,"v":149},{"a":11,"b":4.75,"v":156},{"a":11.25,"b":4.75,"v":162},{"a":11.5,"b":4.75,"v":169},{"a":11.75,"b":4.75,"v":175}
],
"contours":[
{"lv":1,"k":0,"a":6.895,"b":2},{"lv":1,"k":1,"a":6.565,"b":2.183},{"lv":1,"k":2,"a":6.183,"b":2.354},{"lv":1,"k":3,"a":5.775,"b":2.5},{"lv":1,"k":4,"a":5.368,"b":2.612},{"lv":1,"k":5,"a":4.991,"b":2.683},{"lv":1,"k":6,"a":4.669,"b":2.707},{"lv":1,"k":7,"a":4.424,"b":2.683},{"lv":1,"k":8,"a":4.273,"b":2.612},{"lv":1,"k":9,"a":4.225,"b":2.5},{"lv":1,"k":10,"a":4.286,"b":2.354},{"lv":1,"k":11,"a":4.449,"b":2.183},{"lv":1,"k":12,"a":4.705,"b":2},{"lv":1,"k":13,"a":5.035,"b":1.817},{"lv":1,"k":14,"a":5.417,"b":1.646},{"lv":1,"k":15,"a":5.825,"b":1.5},{"lv":1,"k":16,"a":6.232,"b":1.388},{"lv":1,"k":17,"a":6.609,"b":1.317},{"lv":1,"k":18,"a":6.931,"b":1.293},{"lv":1,"k":19,"a":7.176,"b":1.317},{"lv":1,"k":20,"a":7.327,"b":1.388},{"lv":1,"k":21,"a":7.375,"b":1.5},{"lv":1,"k":22,"a":7.314,"b":1.646},{"lv":1,"k":23,"a":7.151,"b":1.817},{"lv":1,"k":24,"a":6.895,"b":2},
{"lv":2,"k":0,"a":7.973,"b":2},{"lv":2,"k":1,"a":7.318,"b":2.363},{"lv":2,"k":2,"a":6.56,"b":2.701},{"lv":2,"k":3,"a":5.75,"b":2.992},{"lv":2,"k":4,"a":4.943,"b":3.215},{"lv":2,"k":5,"a":4.195,"b":3.355},{"lv":2,"k":6,"a":3.556,"b":3.402},{"lv":2,"k":7,"a":3.07,"b":3.355},{"lv":2,"k":8,"a":2.771,"b":3.215},{"lv":2,"k":9,"a":2.677,"b":2.992},{"lv":2,"k":10,"a":2.797,"b":2.701},{"lv":2,"k":11,"a":3.121,"b":2.363},{"lv":2,"k":12,"a":3.627,"b":2},{"lv":2,"k":13,"a":4.282,"b":1.637},{"lv":2,"k":14,"a":5.04,"b":1.299},{"lv":2,"k":15,"a":5.85,"b":1.008},{"lv":2,"k":16,"a":6.657,"b":0.785},{"lv":2,"k":17,"a":7.405,"b":0.645},{"lv":2,"k":18,"a":8.044,"b":0.598},{"lv":2,"k":19,"a":8.53,"b":0.645},{"lv":2,"k":20,"a":8.829,"b":0.785},{"lv":2,"k":21,"a":8.923,"b":1.008},{"lv":2,"k":22,"a":8.803,"b":1.299},{"lv":2,"k":23,"a":8.479,"b":1.637},{"lv":2,"k":24,"a":7.973,"b":2},
{"lv":3,"k":0,"a":8.671,"b":2},{"lv":3,"k":1,"a":7.805,"b":2.48},{"lv":3,"k":2,"a":6.804,"b":2.927},{"lv":3,"k":3,"a":5.733,"b":3.31},{"lv":3,"k":4,"a":4.668,"b":3.605},{"lv":3,"k":5,"a":3.679,"b":3.79},{"lv":3,"k":6,"a":2.835,"b":3.853},{"lv":3,"k":7,"a":2.194,"b":3.79},{"lv":3,"k":8,"a":1.797,"b":3.605},{"lv":3,"k":9,"a":1.674,"b":3.31},{"lv":3,"k":10,"a":1.832,"b":2.927},{"lv":3,"k":11,"a":2.26,"b":2.48},{"lv":3,"k":12,"a":2.93,"b":2},{"lv":3,"k":13,"a":3.795,"b":1.52},{"lv":3,"k":14,"a":4.796,"b":1.073},{"lv":3,"k":15,"a":5.867,"b":0.69},{"lv":3,"k":16,"a":6.932,"b":0.395},{"lv":3,"k":17,"a":7.921,"b":0.21},{"lv":3,"k":18,"a":8.765,"b":0.147},{"lv":3,"k":19,"a":9.406,"b":0.21},{"lv":3,"k":20,"a":9.803,"b":0.395},{"lv":3,"k":21,"a":9.926,"b":0.69},{"lv":3,"k":22,"a":9.768,"b":1.073},{"lv":3,"k":23,"a":9.34,"b":1.52},{"lv":3,"k":24,"a":8.671,"b":2},
{"lv":4,"k":0,"a":9.229,"b":2},{"lv":4,"k":1,"a":8.196,"b":2.573},{"lv":4,"k":2,"a":6.999,"b":3.107},{"lv":4,"k":3,"a":5.72,"b":3.565},{"lv":4,"k":4,"a":4.448,"b":3.917},{"lv":4,"k":5,"a":3.267,"b":4.138},{"lv":4,"k":6,"a":2.258,"b":4.214},{"lv":4,"k":7,"a":1.492,"b":4.138},{"lv":4,"k":8,"a":1.018,"b":3.917},{"lv":4,"k":9,"a":0.871,"b":3.565},{"lv":4,"k":10,"a":1.059,"b":3.107},{"lv":4,"k":11,"a":1.571,"b":2.573},{"lv":4,"k":12,"a":2.371,"b":2},{"lv":4,"k":13,"a":3.404,"b":1.427},{"lv":4,"k":14,"a":4.601,"b":0.893},{"lv":4,"k":15,"a":5.88,"b":0.435},{"lv":4,"k":16,"a":7.152,"b":0.083},{"lv":4,"k":17,"a":8.333,"b":-0.138},{"lv":4,"k":18,"a":9.342,"b":-0.214},{"lv":4,"k":19,"a":10.108,"b":-0.138},{"lv":4,"k":20,"a":10.582,"b":0.083},{"lv":4,"k":21,"a":10.729,"b":0.435},{"lv":4,"k":22,"a":10.541,"b":0.893},{"lv":4,"k":23,"a":10.029,"b":1.427},{"lv":4,"k":24,"a":9.229,"b":2},
{"lv":5,"k":0,"a":9.709,"b":2},{"lv":5,"k":1,"a":8.531,"b":2.653},{"lv":5,"k":2,"a":7.167,"b":3.262},{"lv":5,"k":3,"a":5.71,"b":3.784},{"lv":5,"k":4,"a":4.258,"b":4.185},{"lv":5,"k":5,"a":2.912,"b":4.437},{"lv":5,"k":6,"a":1.763,"b":4.523},{"lv":5,"k":7,"a":0.889,"b":4.437},{"lv":5,"k":8,"a":0.349,"b":4.185},{"lv":5,"k":9,"a":0.181,"b":3.784},{"lv":5,"k":10,"a":0.396,"b":3.262},{"lv":5,"k":11,"a":0.98,"b":2.653},{"lv":5,"k":12,"a":1.891,"b":2},{"lv":5,"k":13,"a":3.069,"b":1.347},{"lv":5,"k":14,"a":4.433,"b":0.738},{"lv":5,"k":15,"a":5.89,"b":0.216},{"lv":5,"k":16,"a":7.342,"b":-0.185},{"lv":5,"k":17,"a":8.688,"b":-0.437},{"lv":5,"k":18,"a":9.837,"b":-0.523},{"lv":5,"k":19,"a":10.711,"b":-0.437},{"lv":5,"k":20,"a":11.251,"b":-0.185},{"lv":5,"k":21,"a":11.419,"b":0.216},{"lv":5,"k":22,"a":11.204,"b":0.738},{"lv":5,"k":23,"a":10.62,"b":1.347},{"lv":5,"k":24,"a":9.709,"b":2},
{"lv":6,"k":0,"a":10.136,"b":2},{"lv":6,"k":1,"a":8.829,"b":2.724},{"lv":6,"k":2,"a":7.316,"b":3.399},{"lv":6,"k":3,"a":5.699,"b":3.979},{"lv":6,"k":4,"a":4.09,"b":4.424},{"lv":6,"k":5,"a":2.597,"b":4.703},{"lv":6,"k":6,"a":1.322,"b":4.799},{"lv":6,"k":7,"a":0.353,"b":4.703},{"lv":6,"k":8,"a":-0.246,"b":4.424},{"lv":6,"k":9,"a":-0.432,"b":3.979},{"lv":6,"k":10,"a":-0.194,"b":3.399},{"lv":6,"k":11,"a":0.453,"b":2.724},{"lv":6,"k":12,"a":1.464,"b":2},{"lv":6,"k":13,"a":2.771,"b":1.276},{"lv":6,"k":14,"a":4.284,"b":0.601},{"lv":6,"k":15,"a":5.901,"b":0.021},{"lv":6,"k":16,"a":7.51,"b":-0.424},{"lv":6,"k":17,"a":9.003,"b":-0.703},{"lv":6,"k":18,"a":10.278,"b":-0.799},{"lv":6,"k":19,"a":11.247,"b":-0.703},{"lv":6,"k":20,"a":11.846,"b":-0.424},{"lv":6,"k":21,"a":12.032,"b":0.021},{"lv":6,"k":22,"a":11.794,"b":0.601},{"lv":6,"k":23,"a":11.147,"b":1.276},{"lv":6,"k":24,"a":10.136,"b":2},
{"lv":7,"k":0,"a":10.524,"b":2},{"lv":7,"k":1,"a":9.101,"b":2.789},{"lv":7,"k":2,"a":7.452,"b":3.525},{"lv":7,"k":3,"a":5.69,"b":4.156},{"lv":7,"k":4,"a":3.937,"b":4.641},{"lv":7,"k":5,"a":2.31,"b":4.946},{"lv":7,"k":6,"a":0.921,"b":5.05},{"lv":7,"k":7,"a":-0.136,"b":4.946},{"lv":7,"k":8,"a":-0.788,"b":4.641},{"lv":7,"k":9,"a":-0.991,"b":4.156},{"lv":7,"k":10,"a":-0.731,"b":3.525},{"lv":7,"k":11,"a":-0.026,"b":2.789},{"lv":7,"k":12,"a":1.076,"b":2},{"lv":7,"k":13,"a":2.499,"b":1.211},{"lv":7,"k":14,"a":4.148,"b":0.475},{"lv":7,"k":15,"a":5.91,"b":-0.156},{"lv":7,"k":16,"a":7.663,"b":-0.641},{"lv":7,"k":17,"a":9.29,"b":-0.946},{"lv":7,"k":18,"a":10.679,"b":-1.05},{"lv":7,"k":19,"a":11.736,"b":-0.946},{"lv":7,"k":20,"a":12.388,"b":-0.641},{"lv":7,"k":21,"a":12.591,"b":-0.156},{"lv":7,"k":22,"a":12.331,"b":0.475},{"lv":7,"k":23,"a":11.699,"b":1.211},{"lv":7,"k":24,"a":10.524,"b":2}
],
"path":[
{"k":1,"a":0,"b":0},{"k":2,"a":0.88,"b":1.94},{"k":3,"a":1.47,"b":4.28},{"k":4,"a":1.86,"b":4.54},{"k":5,"a":1.02,"b":0.58},{"k":6,"a":1.71,"b":0.73},{"k":7,"a":2.37,"b":1.39},{"k":8,"a":2.6,"b":1.79},{"k":9,"a":3.1,"b":4.03},{"k":10,"a":2.62,"b":1.79},{"k":11,"a":2.98,"b":1.8},{"k":12,"a":3.37,"b":2.25},{"k":13,"a":3.58,"b":2.7},{"k":14,"a":3.75,"b":3.34},{"k":15,"a":3.58,"b":1.95},{"k":16,"a":3.8,"b":2.62},{"k":17,"a":3.85,"b":2.1},{"k":18,"a":4.1,"b":2.75},{"k":19,"a":4.06,"b":1.78},{"k":20,"a":4.35,"b":2.3},{"k":21,"a":4.48,"b":2.48},{"k":22,"a":4.7,"b":2.5}
],
"ends":[
{"a":0,"b":0,"t":"Start","f":"#222222","s":14},{"a":4.7,"b":2.5,"t":"End","f":"#b01010","s":34}
]
},
"layer":[
{"data":{"name":"grid"},
"mark":{"type":"rect","strokeWidth":0.7,"stroke":{"expr":"scale('color', datum.v)"}},
"encoding":{
"x":{"field":"a","type":"quantitative","bin":{"step":0.25,"extent":[0,12]},"scale":{"domain":[0,12],"nice":false,"zero":false},"title":"a₀","axis":{"values":[0,2,4,6,8,10,12],"format":"d","titlePadding":1}},
"y":{"field":"b","type":"quantitative","bin":{"step":0.25,"extent":[0,5]},"scale":{"domain":[0,5],"nice":false,"zero":false},"title":"a₁","axis":{"values":[0,1,2,3,4,5],"format":"d","titlePadding":8}},
"color":{"field":"v","type":"quantitative","scale":{"domain":[0,195],"interpolate":"rgb","range":["#333399","#3333ff","#3399ff","#43ffe8","#95ff95","#e8ff43","#ffac33","#ff4d33","#993333"]},
"legend":{"type":"gradient","orient":"right","offset":37,"padding":0,"title":null,"gradientLength":291,"gradientThickness":16,"values":[0,20,40,60,80,100,120,140,160,180],"labelFontSize":9,"labelColor":"#333","gradientStrokeColor":"#666","gradientStrokeWidth":0.6}}
}},
{"data":{"name":"contours"},
"mark":{"type":"line","color":"#1c1c6e","strokeWidth":0.9,"opacity":0.85,"clip":true},
"encoding":{
"x":{"field":"a","type":"quantitative","title":"a₀"},
"y":{"field":"b","type":"quantitative","title":"a₁"},
"detail":{"field":"lv","type":"nominal"},
"order":{"field":"k","type":"quantitative"}
}},
{"data":{"name":"path"},
"mark":{"type":"line","color":"#e8202a","strokeWidth":3,"opacity":0.9,"strokeJoin":"round"},
"encoding":{
"x":{"field":"a","type":"quantitative","title":"a₀"},
"y":{"field":"b","type":"quantitative","title":"a₁"},
"order":{"field":"k","type":"quantitative"}
}},
{"data":{"name":"ends"},
"mark":{"type":"point","filled":true,"stroke":"#000","strokeWidth":1.3,"opacity":1},
"encoding":{
"x":{"field":"a","type":"quantitative","title":"a₀"},
"y":{"field":"b","type":"quantitative","title":"a₁"},
"fill":{"field":"f","type":"nominal","scale":null},
"size":{"field":"s","type":"quantitative","scale":null}
}},
{"data":{"name":"ends"},
"mark":{"type":"text","align":"left","baseline":"middle","dx":8,"dy":-3,"fontSize":8,"color":"#222"},
"encoding":{
"x":{"field":"a","type":"quantitative","title":"a₀"},
"y":{"field":"b","type":"quantitative","title":"a₁"},
"text":{"field":"t"}
}}
]
}
